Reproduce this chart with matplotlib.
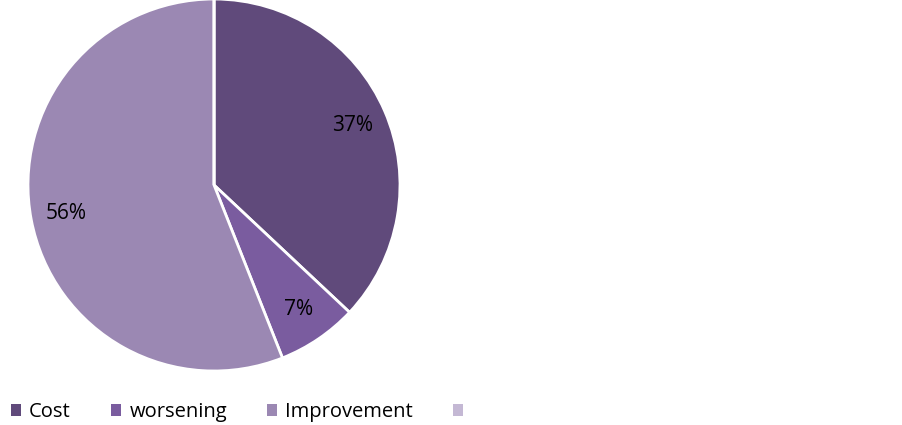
import matplotlib.pyplot as plt
from matplotlib.patches import Patch

labels = ['Cost', 'worsening', 'Improvement', '']
values = [37, 7, 56, 0]
colors = ['#604a7b', '#7a5c9f', '#9b88b3', '#c4b8d4']

plt.rcParams['font.family'] = ['Open Sans', 'DejaVu Sans']

fig = plt.figure(figsize=(9.03, 4.25), dpi=100)
ax = fig.add_axes([28 / 903, 54 / 425, 372 / 903, 372 / 425])

def fmt(p):
    return f'{p:.0f}%' if p > 0 else ''

ax.pie(values, colors=colors, startangle=90, counterclock=False,
       autopct=fmt, pctdistance=0.81,
       wedgeprops=dict(edgecolor='white', linewidth=2),
       textprops=dict(fontsize=15, color='black'))
ax.set_aspect('equal')
ax.set_xlim(-1.0, 1.0)
ax.set_ylim(-1.0, 1.0)

handles = [Patch(facecolor=c, edgecolor='none') for c in colors]
fig.legend(handles, labels, loc='center left',
           bbox_to_anchor=(11 / 903, 1 - 412 / 425),
           ncol=4, frameon=False, fontsize=14.5, handlelength=0.5,
           handleheight=0.5, handletextpad=0.4, columnspacing=2.0,
           borderpad=0.0, borderaxespad=0.0)

fig.savefig('out.png', dpi=100)
